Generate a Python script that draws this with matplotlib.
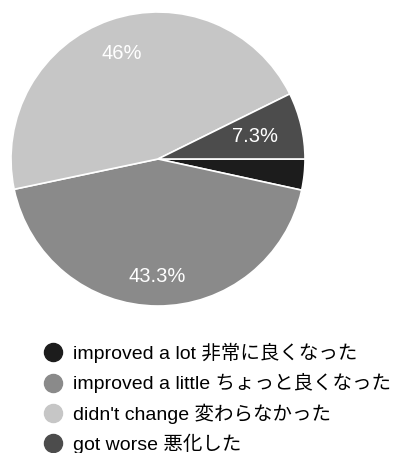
import matplotlib.pyplot as plt
from matplotlib.lines import Line2D

plt.rcParams['font.family'] = ['Liberation Sans', 'Noto Sans CJK JP', 'DejaVu Sans']

labels = ['improved a lot 非常に良くなった',
          'improved a little ちょっと良くなった',
          "didn't change 変わらなかった",
          'got worse 悪化した']
values = [3.4, 43.3, 46.0, 7.3]
colors = ['#1c1c1c', '#8a8a8a', '#c6c6c6', '#4c4c4c']
label_r = [0.7, 0.8, 0.76, 0.68]   # radial position of the % labels

fig = plt.figure(figsize=(3.95, 4.53), dpi=100)
W, H = 395, 453
cx, cy, R = 158, 159, 147
ax = fig.add_axes([(cx - R) / W, 1 - (cy + R) / H, 2 * R / W, 2 * R / H])

def fmt(p):
    return '%.1f%%' % p if p >= 5 and abs(p - round(p)) > 0.05 else ('%d%%' % round(p) if p >= 5 else '')

wedges, texts, autotexts = ax.pie(values, colors=colors, startangle=0, counterclock=False,
                                  autopct=fmt, pctdistance=1.0,
                                  wedgeprops=dict(edgecolor='white', linewidth=1.2),
                                  textprops=dict(color='white', fontsize=14.5))
for t, r in zip(autotexts, label_r):
    x, y = t.get_position()
    t.set_position((x * r, y * r))
ax.set_xlim(-1, 1)
ax.set_ylim(-1, 1)
ax.set_aspect('equal')

handles = [Line2D([], [], marker='o', linestyle='', markersize=13, markerfacecolor=c,
                  markeredgecolor=c) for c in colors]
fig.legend(handles, labels, loc='upper left', bbox_to_anchor=(43.5 / W, 1 - 343 / H),
           frameon=False, fontsize=14, handletextpad=0.58, labelspacing=0.52,
           borderpad=0, borderaxespad=0, handlelength=0.95)

fig.savefig('out.png', dpi=100)
